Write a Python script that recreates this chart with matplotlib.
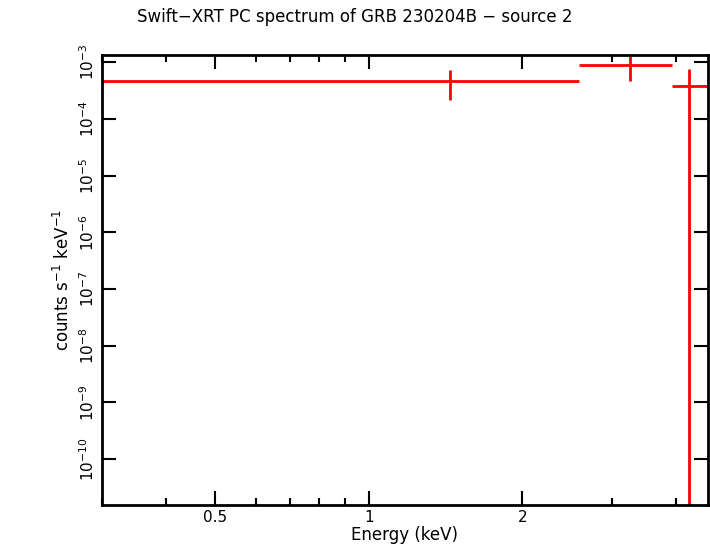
import numpy as np
import matplotlib
matplotlib.use('Agg')
import matplotlib.pyplot as plt
from matplotlib.ticker import LogLocator, NullFormatter, FixedLocator, FixedFormatter

# spectrum bins
e_lo = [0.30, 2.58, 3.93]
e_hi = [2.58, 3.93, 4.62]
e_mid = [1.44, 3.25, 4.25]
rate = [4.6e-4, 8.9e-4, 3.8e-4]
rate_up = [7.2e-4, 1.27e-3, 7.5e-4]
rate_dn = [2.15e-4, 4.6e-4, 1e-12]

fig = plt.figure(figsize=(7.1, 5.56), dpi=100)
ax = fig.add_axes([0.1437, 0.0917, 0.8533, 0.8093])

e_mid = np.array(e_mid); rate = np.array(rate)
xerr = [e_mid - np.array(e_lo), np.array(e_hi) - e_mid]
yerr = [rate - np.array(rate_dn), np.array(rate_up) - rate]
ax.errorbar(e_mid, rate, xerr=xerr, yerr=yerr, fmt='none', ecolor='red', elinewidth=2, capsize=0)

ax.set_xscale('log')
ax.set_yscale('log')
ax.set_xlim(0.3, 4.62)
ax.set_ylim(1.56e-11, 1.33e-3)

ax.xaxis.set_major_locator(FixedLocator([0.5, 1, 2]))
ax.xaxis.set_major_formatter(FixedFormatter(['0.5', '1', '2']))
ax.xaxis.set_minor_locator(FixedLocator([0.3, 0.4, 0.6, 0.7, 0.8, 0.9, 3, 4]))
ax.xaxis.set_minor_formatter(NullFormatter())
ax.yaxis.set_major_locator(LogLocator(base=10, numticks=20))
ax.yaxis.set_minor_locator(LogLocator(base=10, subs=np.arange(2, 10), numticks=20))
ax.yaxis.set_minor_formatter(NullFormatter())

ax.tick_params(which='both', direction='in', top=True, right=True, width=1.5, labelsize=11)
ax.tick_params(which='major', length=10)
ax.tick_params(which='minor', length=5)
ax.tick_params(axis='y', which='minor', length=0)
for lbl in ax.get_yticklabels():
    lbl.set_rotation(90)
    lbl.set_va('center')
for s in ax.spines.values():
    s.set_linewidth(2)

ax.set_xlabel('Energy (keV)', fontsize=12, labelpad=1)
ax.set_ylabel('counts s$^{-1}$ keV$^{-1}$', fontsize=12)
fig.suptitle('Swift\u2212XRT PC spectrum of GRB 230204B \u2212 source 2', fontsize=12, y=0.985)

fig.savefig('out.png')
